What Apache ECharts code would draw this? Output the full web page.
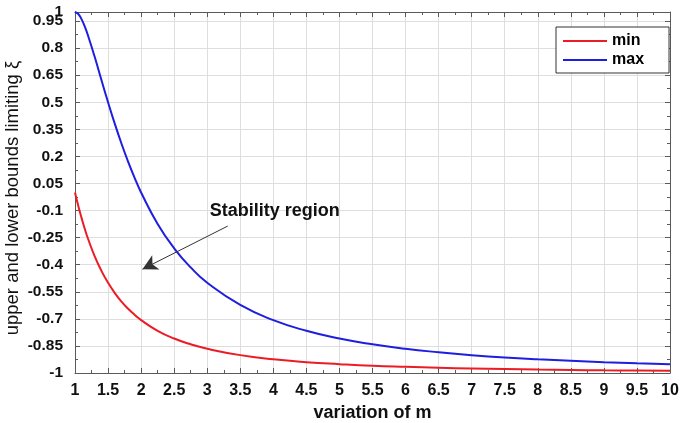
<!DOCTYPE html>
<html><head><meta charset="utf-8">
<script src="https://cdn.jsdelivr.net/npm/echarts@6/dist/echarts.min.js"></script>
<style>html,body{margin:0;padding:0;background:#fff}#c{width:685px;height:423px}</style>
</head><body><div id="c"></div>
<script>
var mValues = [1, 1.05, 1.1, 1.15, 1.2, 1.3, 1.4, 1.5, 1.6, 1.7, 1.8, 1.9, 2, 2.25, 2.5, 2.75, 3, 3.5, 4, 4.5, 5, 5.5, 6, 6.5, 7, 7.5, 8, 8.5, 9, 9.5, 10];
var minValues = [0, -0.075, -0.142, -0.204, -0.259, -0.355, -0.434, -0.5, -0.556, -0.603, -0.643, -0.677, -0.707, -0.766, -0.809, -0.841, -0.866, -0.901, -0.924, -0.94, -0.951, -0.96, -0.966, -0.971, -0.975, -0.978, -0.981, -0.983, -0.985, -0.986, -0.988];
var maxValues = [1, 0.989, 0.959, 0.917, 0.866, 0.749, 0.623, 0.5, 0.383, 0.274, 0.174, 0.083, 0, -0.174, -0.309, -0.415, -0.5, -0.623, -0.707, -0.766, -0.809, -0.841, -0.866, -0.885, -0.901, -0.914, -0.924, -0.932, -0.94, -0.946, -0.951];
var seriesNames = ['min', 'max'];
var annotationText = 'Stability region';
var annotationTextAt = [4.02, -0.102];
var arrowFrom = [3.31, -0.186];
var arrowTo = [2.02, -0.425];

var font = 'Liberation Sans, Arial, sans-serif';
function pairs(xs, ys){ return xs.map(function(x,i){ return [x, ys[i]]; }); }
var chart = echarts.init(document.getElementById('c'));
var axisLineStyle = {color:'#5a5a5a', width:1};
var tickStyle = {color:'#5a5a5a'};
var yLabelStyle = {fontFamily:font, fontWeight:'bold', fontSize:15.5, color:'#111', margin:12};
chart.setOption({
  animation:false,
  backgroundColor:'#fff',
  grid:{left:75, right:15, top:12, bottom:50, show:false, containLabel:false, outerBoundsMode:'none'},
  legend:{
    data:seriesNames, orient:'vertical', left:556, top:27,
    backgroundColor:'#fff', borderColor:'#333', borderWidth:1,
    padding:[6,25,5,7], itemGap:3, itemWidth:44, itemHeight:2, icon:'rect',
    textStyle:{fontFamily:font, fontWeight:'bold', fontSize:16, color:'#000'}
  },
  xAxis:[{
    type:'value', min:1, max:10, interval:0.5, position:'bottom',
    name:'variation of m', nameLocation:'middle', nameGap:28,
    nameTextStyle:{fontFamily:font, fontWeight:'bold', fontSize:18, color:'#111'},
    axisLine:{onZero:false, lineStyle:axisLineStyle},
    axisTick:{inside:true, length:5, lineStyle:tickStyle},
    minorTick:{show:true, splitNumber:2, length:3, lineStyle:tickStyle},
    splitLine:{show:true, lineStyle:{color:'#dedede'}},
    axisLabel:{fontFamily:font, fontWeight:'bold', fontSize:16, color:'#111', margin:10}
  },{
    type:'value', min:1, max:10, interval:0.5, position:'top',
    axisLine:{show:true, onZero:false, lineStyle:axisLineStyle},
    axisTick:{inside:true, length:5, lineStyle:tickStyle},
    minorTick:{show:true, splitNumber:2, length:3, lineStyle:tickStyle},
    splitLine:{show:false}, axisLabel:{show:false}
  }],
  yAxis:[{
    type:'value', min:-1, max:1, interval:0.15, position:'left',
    name:'upper and lower bounds limiting ξ', nameLocation:'middle', nameGap:53, nameMoveOverlap:false,
    nameTextStyle:{fontFamily:font, fontSize:18.5, color:'#111', padding:[0,11,0,0]},
    axisLine:{show:true, onZero:false, lineStyle:axisLineStyle},
    axisTick:{show:true, inside:true, length:5, lineStyle:tickStyle},
    minorTick:{show:true, splitNumber:2, length:3, lineStyle:tickStyle},
    splitLine:{show:true, lineStyle:{color:'#dedede'}},
    axisLabel:Object.assign({showMaxLabel:false}, yLabelStyle)
  },{
    type:'value', min:-1, max:1, interval:0.15, position:'right',
    axisLine:{show:true, onZero:false, lineStyle:axisLineStyle},
    axisTick:{show:true, inside:true, length:5, lineStyle:tickStyle},
    minorTick:{show:true, splitNumber:2, length:3, lineStyle:tickStyle},
    splitLine:{show:false}, axisLabel:{show:false}
  },{
    type:'value', min:-1, max:1, interval:2, position:'left',
    axisLine:{show:false, onZero:false}, axisTick:{show:false}, splitLine:{show:false},
    axisLabel:Object.assign({showMinLabel:false, showMaxLabel:true}, yLabelStyle)
  }],
  series:[{
    name:seriesNames[0], type:'line', smooth:true, showSymbol:false,
    data:pairs(mValues, minValues),
    itemStyle:{color:'#ec1c24'}, lineStyle:{color:'#ec1c24', width:2},
    markLine:{
      silent:true, symbol:['none','arrow'], symbolSize:[12,15],
      lineStyle:{color:'#333', width:1, type:'solid'}, label:{show:false},
      data:[[{coord:arrowFrom},{coord:arrowTo}]]
    },
    markPoint:{
      silent:true, symbol:'circle', symbolSize:1, itemStyle:{color:'rgba(0,0,0,0)'},
      label:{show:true, formatter:annotationText, fontFamily:font, fontWeight:'bold', fontSize:18, color:'#111', position:'inside'},
      data:[{coord:annotationTextAt}]
    }
  },{
    name:seriesNames[1], type:'line', smooth:true, showSymbol:false,
    data:pairs(mValues, maxValues),
    itemStyle:{color:'#1e1ee0'}, lineStyle:{color:'#1e1ee0', width:2}
  }]
});
</script></body></html>
